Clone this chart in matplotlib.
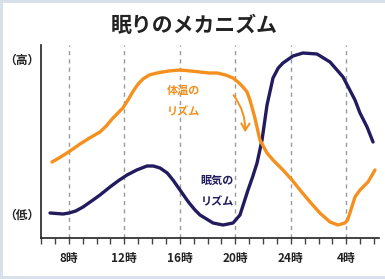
import matplotlib
matplotlib.use('Agg')
import matplotlib.pyplot as plt
from matplotlib.patches import Rectangle, FancyArrowPatch

plt.rcParams['font.family'] = ['Noto Sans CJK JP', 'DejaVu Sans']

# data (hours from 6時, level arbitrary)
temp_hours = [6.79, 7.3, 7.87, 8.3, 8.81, 9.5, 10.25, 10.7, 11.19, 11.9, 12.27, 12.65, 13.0, 13.35, 13.8,
              14.36, 15.2, 16.0, 16.8, 17.46, 18.1, 18.7, 19.3, 19.84, 20.2, 20.56, 20.85, 21.06, 21.4,
              21.78, 22.29, 22.72, 23.44, 24.09, 24.67, 25.39, 26.1, 26.83, 27.4, 27.9, 28.1, 28.4,
              28.63, 28.99, 29.57, 30.07]
temp_level = [76, 80, 85, 89, 94, 100, 106, 112, 120, 130, 138, 147, 154, 159, 163,
              165, 167, 168, 167, 166, 165, 165, 163, 160, 156, 151, 146, 138, 121,
              98, 85, 78, 68, 58, 48, 36, 25, 16, 13, 15, 18, 31,
              41, 48, 56, 68]

sleep_hours = [6.65, 7.59, 8.02, 8.5, 9.03, 9.75, 10.25, 10.97, 11.6, 12.2, 12.9, 13.64, 14.1, 14.58,
               15.1, 15.51, 16.02, 16.52, 16.74, 17.1, 17.46, 18.4, 19.12, 19.84, 20.34, 20.92,
               21.25, 21.57, 21.93, 22.29, 22.72, 23.1, 23.44, 24.16, 24.88, 25.89, 26.83, 27.77,
               28.63, 28.99, 29.5, 29.93]
sleep_level = [25, 24, 25, 27, 31, 38, 43, 51, 57.5, 63, 68, 72, 72, 70,
               65, 58, 48, 38, 34, 28, 23, 15, 13, 15, 23, 48,
               61, 75, 98, 133, 160, 170, 175, 182, 185, 184, 176, 161,
               138, 125, 111, 96]

grid_hours = [8, 12, 16, 20, 24, 28]
tick_labels = ['8時', '12時', '16時', '20時', '24時', '4時']

orange = '#f5901f'
navy = '#221c5e'

fig = plt.figure(figsize=(3.85, 2.79), dpi=100, facecolor='#d8e0ea')
fig.patches.append(Rectangle((3 / 385, 3 / 279), 382 / 385, 273 / 279, transform=fig.transFigure,
                             facecolor='white', edgecolor='none', zorder=-10))

ax = fig.add_axes([41 / 385, 1 - 238 / 279, 338 / 385, 193 / 279])
ax.set_zorder(1)
ax.set_facecolor('none')
ax.set_xlim(6, 6 + 338 / 13.875)
ax.set_ylim(0, 193)

for h in grid_hours:
    ax.axvline(h, color='#9a9a9a', lw=1, ls=(0, (3, 3)), zorder=1)

ax.plot(temp_hours, temp_level, color=orange, lw=2.4, solid_capstyle='round',
        solid_joinstyle='round', zorder=3)
ax.plot(sleep_hours, sleep_level, color=navy, lw=2.4, solid_capstyle='round',
        solid_joinstyle='round', zorder=2)

for s in ['top', 'right']:
    ax.spines[s].set_visible(False)
for s in ['left', 'bottom']:
    ax.spines[s].set_linewidth(1.2)
    ax.spines[s].set_color('#222222')

ax.set_yticks([])
ax.set_xticks(range(6, 31))
ax.set_xticklabels([])
ax.tick_params(axis='x', which='major', length=4, width=1, color='#444444', direction='out')
for h, lab in zip(grid_hours, tick_labels):
    ax.text(h, -20, lab, ha='center', va='center', fontsize=8.5, fontweight='bold', color='#222222')

ax.text(-0.056, 0.92, '（高）', transform=ax.transAxes, ha='center', va='center',
        fontsize=8.5, fontweight='bold', color='#222222')
ax.text(-0.056, 0.12, '（低）', transform=ax.transAxes, ha='center', va='center',
        fontsize=8.5, fontweight='bold', color='#222222')

ax.text(16.25, 148, '体温の', ha='center', va='center', fontsize=8, fontweight='bold', color=orange)
ax.text(16.25, 126, 'リズム', ha='center', va='center', fontsize=8, fontweight='bold', color=orange)
ax.text(18.7, 58, '眠気の', ha='center', va='center', fontsize=8, fontweight='bold', color=navy)
ax.text(18.7, 36, 'リズム', ha='center', va='center', fontsize=8, fontweight='bold', color=navy)

arrow = FancyArrowPatch((19.75, 145), (20.7, 103), connectionstyle='arc3,rad=-0.2',
                        arrowstyle='->,head_length=5,head_width=3', color=orange, lw=1.4,
                        mutation_scale=1, zorder=4)
ax.add_patch(arrow)

fig.text(194 / 385, 1 - 25 / 279, '眠りのメカニズム', ha='center', va='center',
         fontsize=15, fontweight='bold', color='#222222')

fig.savefig('out.png', dpi=100, facecolor=fig.get_facecolor())
